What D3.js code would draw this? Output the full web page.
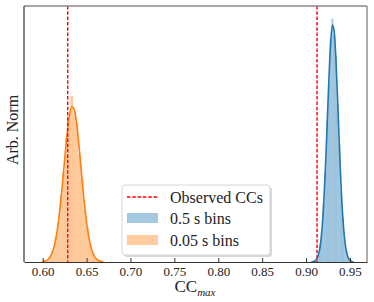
<!DOCTYPE html>
<html>
<head>
<meta charset="utf-8">
<script src="https://cdn.jsdelivr.net/npm/d3@7"></script>
<style>
  body { margin: 0; background: #fff; }
  text { font-family: "Liberation Serif", "DejaVu Serif", serif; fill: #222; }
</style>
</head>
<body>
<svg id="chart" width="374" height="302"></svg>
<script>
// Data
const xTicks = [0.60, 0.65, 0.70, 0.75, 0.80, 0.85, 0.90, 0.95];
const observedCC = [0.6285, 0.9125];

// 0.5 s bins (blue): kde curve + histogram
const blueX = [0.906, 0.908, 0.910, 0.912, 0.914, 0.916, 0.918, 0.920, 0.922, 0.924, 0.926, 0.928, 0.930,
               0.932, 0.934, 0.936, 0.938, 0.940, 0.942, 0.944, 0.946, 0.948, 0.950, 0.952, 0.954];
const blueKde = [0.03, 0.09, 0.27, 0.75, 1.86, 4.15, 8.39, 15.3, 25.0, 37.0, 49.2, 59.0, 63.8,
                 62.1, 54.6, 43.2, 30.8, 19.8, 11.5, 5.98, 2.81, 1.19, 0.45, 0.16, 0.05];
const blueHist = [0, 0.1, 0.3, 0.8, 1.7, 4.4, 8.0, 15.8, 24.2, 37.9, 48.3, 60.2, 65.4,
                  61.0, 55.5, 42.4, 31.5, 19.1, 11.9, 5.6, 3.0, 1.0, 0.5, 0.1, 0];

// 0.05 s bins (orange): kde curve + histogram
const orangeX = [0.600, 0.603, 0.606, 0.609, 0.612, 0.615, 0.618, 0.621, 0.624, 0.627, 0.630, 0.633,
                 0.636, 0.639, 0.642, 0.645, 0.648, 0.651, 0.654, 0.657, 0.660, 0.663, 0.666, 0.669];
const orangeKde = [0.09, 0.26, 0.67, 1.56, 3.28, 6.30, 11.0, 17.4, 24.9, 32.6, 38.7, 41.8,
                   41.0, 36.6, 29.6, 21.8, 14.6, 8.88, 4.91, 2.47, 1.12, 0.47, 0.18, 0.06];
const orangeHist = [0.1, 0.3, 0.6, 1.7, 3.0, 6.6, 10.5, 17.9, 24.3, 33.4, 38.0, 44.6,
                    40.2, 37.3, 29.0, 22.3, 14.1, 9.2, 4.7, 2.6, 1.0, 0.5, 0.2, 0.05];

const legendLabels = ["Observed CCs", "0.5 s bins", "0.05 s bins"];

// Layout
const svg = d3.select("#chart");
const m = { left: 24, right: 367, top: 6, bottom: 262 };

const x = d3.scaleLinear().domain([0.5787, 0.9694]).range([m.left, m.right]);
const y = d3.scaleLinear().domain([0, 68.9]).range([m.bottom, m.top]);

svg.append("clipPath").attr("id", "clip")
  .append("rect").attr("x", m.left).attr("y", m.top)
  .attr("width", m.right - m.left).attr("height", m.bottom - m.top);

const plot = svg.append("g").attr("clip-path", "url(#clip)");

function drawDist(xs, hist, kde, color) {
  const step = xs[1] - xs[0];
  const g = plot.append("g");
  g.selectAll("rect")
    .data(xs.map((v, i) => ({ x: v, h: hist[i] })))
    .join("rect")
    .attr("x", d => x(d.x - step / 2))
    .attr("width", d => x(d.x + step / 2) - x(d.x - step / 2))
    .attr("y", d => y(d.h))
    .attr("height", d => y(0) - y(d.h))
    .attr("fill", color)
    .attr("fill-opacity", 0.4)
    .attr("stroke", color)
    .attr("stroke-opacity", 0.12)
    .attr("stroke-width", 0.4);

  const line = d3.line()
    .x((d, i) => x(xs[i]))
    .y(d => y(d))
    .curve(d3.curveMonotoneX);
  g.append("path")
    .attr("d", line(kde))
    .attr("fill", "none")
    .attr("stroke", color)
    .attr("stroke-width", 1.6);
}

drawDist(blueX, blueHist, blueKde, "#1f77b4");
drawDist(orangeX, orangeHist, orangeKde, "#ff7f0e");

plot.selectAll("line.obs")
  .data(observedCC)
  .join("line")
  .attr("class", "obs")
  .attr("x1", d => x(d)).attr("x2", d => x(d))
  .attr("y1", m.top).attr("y2", m.bottom)
  .attr("stroke", "#f00")
  .attr("stroke-width", 1.4)
  .attr("stroke-dasharray", "3.5,1.8");

// Frame
svg.append("line").attr("x1", m.left).attr("x2", m.right).attr("y1", m.top).attr("y2", m.top)
  .attr("stroke", "#8a8a8a").attr("stroke-width", 1.4);
svg.append("line").attr("x1", m.right).attr("x2", m.right).attr("y1", m.top).attr("y2", m.bottom)
  .attr("stroke", "#8a8a8a").attr("stroke-width", 1.4);
svg.append("line").attr("x1", m.left).attr("x2", m.left).attr("y1", m.top).attr("y2", m.bottom)
  .attr("stroke", "#333").attr("stroke-width", 1.2);

// X axis (ticks inward)
const xAxis = d3.axisBottom(x)
  .tickValues(xTicks)
  .tickFormat(d3.format(".2f"))
  .tickSizeInner(-4)
  .tickSizeOuter(0)
  .tickPadding(5);
const gx = svg.append("g").attr("transform", `translate(0,${m.bottom})`).call(xAxis)
  .attr("font-family", "'Liberation Serif', serif")
  .attr("font-size", 13);
gx.select(".domain").attr("stroke", "#333").attr("stroke-width", 1.2);
gx.selectAll(".tick line").attr("stroke", "#333").attr("stroke-width", 1);
gx.selectAll(".tick text").attr("fill", "#333");

// Axis labels
const xl = svg.append("text")
  .attr("x", 195).attr("y", 292)
  .attr("text-anchor", "middle")
  .attr("font-size", 17);
xl.append("tspan").text("CC");
xl.append("tspan").attr("font-size", 11).attr("font-style", "italic").attr("dy", 3.5).text("max");

svg.append("text")
  .attr("transform", "translate(18,130) rotate(-90)")
  .attr("text-anchor", "middle")
  .attr("font-size", 16)
  .text("Arb. Norm");

// Legend
const lg = svg.append("g").attr("transform", "translate(122,185)");
lg.append("rect").attr("x", 2).attr("y", 2).attr("width", 148).attr("height", 70)
  .attr("rx", 3).attr("fill", "#c8c8c8").attr("opacity", 0.7);
lg.append("rect").attr("x", 0).attr("y", 0).attr("width", 148).attr("height", 70)
  .attr("rx", 3).attr("fill", "#fff").attr("stroke", "#d6d6d6").attr("stroke-width", 1);

lg.append("line").attr("x1", 5).attr("x2", 36).attr("y1", 12).attr("y2", 12)
  .attr("stroke", "#f00").attr("stroke-width", 1.4).attr("stroke-dasharray", "3.5,1.8");
lg.append("rect").attr("x", 5).attr("y", 28).attr("width", 31).attr("height", 10)
  .attr("fill", "#1f77b4").attr("fill-opacity", 0.4);
lg.append("rect").attr("x", 5).attr("y", 50).attr("width", 31).attr("height", 10)
  .attr("fill", "#ff7f0e").attr("fill-opacity", 0.4);

lg.selectAll("text.lab")
  .data(legendLabels)
  .join("text")
  .attr("class", "lab")
  .attr("x", 48)
  .attr("y", (d, i) => 17.5 + i * 21.5)
  .attr("font-size", 16)
  .text(d => d);
</script>
</body>
</html>
